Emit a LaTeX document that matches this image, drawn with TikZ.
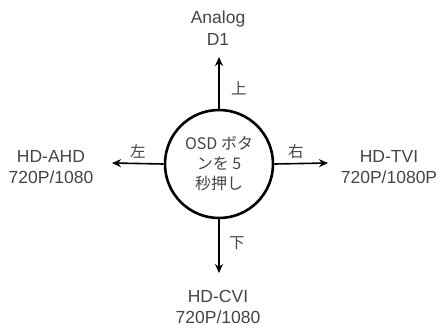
\documentclass[tikz,border=0pt]{standalone}
\usepackage{fontspec}
\setmainfont{Liberation Sans}
\newfontfamily\cjk{Noto Sans CJK JP}
\usetikzlibrary{arrows.meta,positioning}
\definecolor{labelgray}{HTML}{454545}

\begin{document}
\begin{tikzpicture}[
    x=1pt, y=-1pt,
    % --- STYLES ---
    button/.style={
        circle, draw=black, line width=2.6pt,
        minimum size=108pt, inner sep=0pt,
        align=center, text=labelgray,
        font=\cjk\fontsize{16}{20}\selectfont
    },
    target/.style={
        align=center, text=labelgray,
        font=\fontsize{17.5}{21.5}\selectfont
    },
    dirlabel/.style={text=labelgray, font=\cjk\fontsize{15.5}{18}\selectfont},
    control/.style={-{Stealth[length=9pt,width=8pt]}, line width=1.6pt}
]
\useasboundingbox (0,0) rectangle (442,327);

% ===== 1. BUTTON =====
\node[button] (osd) at (219,164) {OSD ボタ\\ンを 5\\秒押し};

% ===== 2. TARGETS =====
\node[target] (analog) at (218,28) {Analog\\D1};
\node[target] (ahd) at (51,167) {HD-AHD\\720P/1080};
\node[target] (tvi) at (389,167) {HD-TVI\\720P/1080P};
\node[target] (cvi) at (218,307) {HD-CVI\\720P/1080};

% arrow tips
\coordinate (tipN) at (219,57);
\coordinate (tipS) at (219,273);
\coordinate (tipW) at (112,163);
\coordinate (tipE) at (328,163);

% ===== 3. CONNECTIONS =====
\draw[control] (osd.north) -- node[dirlabel, pos=0.4, right=8pt] {上} (tipN);
\draw[control] (osd.south) -- node[dirlabel, pos=0.45, right=6pt] {下} (tipS);
\draw[control] (osd.west) -- node[dirlabel, pos=0.5, above=1pt] {左} (tipW);
\draw[control] (osd.east) -- node[dirlabel, pos=0.4, above=1pt] {右} (tipE);

\end{tikzpicture}
\end{document}
